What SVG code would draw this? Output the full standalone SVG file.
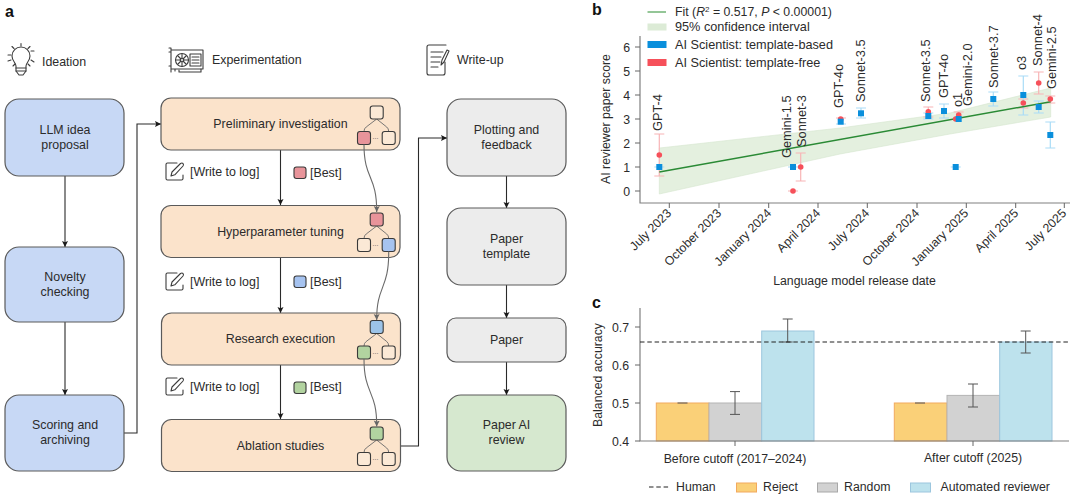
<svg xmlns="http://www.w3.org/2000/svg" width="1080" height="498" viewBox="0 0 1080 498">
<style>
text{font-family:"Liberation Sans",Arial,sans-serif;fill:#2b2b2b;font-size:12.4px}
.c{text-anchor:middle}
.e{text-anchor:end}
.h{font-weight:bold;font-size:16px;fill:#111}
.ax{font-size:12.3px}
.v{font-size:12.8px}
.box{stroke:#5a5a5a;stroke-width:1.2}
.blue{fill:#c7d8f5}.org{fill:#fbe3cb}.gry{fill:#ececec}.grn{fill:#d6e8cf}
.line{fill:none;stroke:#2a2a2a;stroke-width:1.1}
.curve{fill:none;stroke:#6a6a6a;stroke-width:1.1}
.t{stroke:#3a3a3a;stroke-width:1.1}
.w{fill:#fbe9d6}.r{fill:#e8949a}.b{fill:#a6c3f0}.b2{fill:#9cc3e8}.g{fill:#b2d3a0}
.fan{fill:none;stroke:#6a6a6a;stroke-width:.9}
.ic{fill:none;stroke:#3c3c3c;stroke-width:1.1;stroke-linecap:round;stroke-linejoin:round}
.axis{fill:none;stroke:#808080;stroke-width:1.2}
.tk{stroke:#666;stroke-width:1}
.eb{stroke:#a9dcf7;stroke-width:1.2;fill:none}
.er{stroke:#f8b4b6;stroke-width:1.2;fill:none}
.sq{fill:#0a8fdc}.dot{fill:#f6505a}
.bar{stroke-width:1}
.ce{stroke:#555;stroke-width:1;fill:none}
.dots{font-size:7px;fill:#555}
</style>
<defs>
<marker id="ah" markerUnits="userSpaceOnUse" markerWidth="7" markerHeight="7" refX="6" refY="3" orient="auto"><path d="M0 0L6 3L0 6L1.2 3Z" fill="#1a1a1a"/></marker>
<marker id="ag" markerUnits="userSpaceOnUse" markerWidth="7" markerHeight="7" refX="6" refY="3" orient="auto"><path d="M0 0L6 3L0 6L1.2 3Z" fill="#666"/></marker>
<g id="pen"><path class="ic" d="M12 1H2.500Q1 1 1 2.500V16.500Q1 18 2.500 18H16.500Q18 18 18 16.500V13"/><path class="ic" d="M6 14L7 10L15.500 1.500Q17 0.500 18 1.500Q19 2.800 18 4L9.800 12.800Z"/></g>
<g id="fanlines"><path class="fan" d="M0 6.500L-10.500 14.500Q-12.700 16 -12.700 19M0 6.500L10 14.500Q12 16 12 19"/></g>
</defs>

<text class="h" x="5" y="17">a</text>
<text class="h" x="592" y="15">b</text>
<text class="h" x="592" y="308">c</text>

<g id="head-ideation">
<path class="ic" d="M16 71V66C16 63 12 61 12 56A9 9 0 0 1 30 56C30 61 26 63 26 66V71L23 75H19Z"/>
<path class="ic" d="M16 68H26M16 71H26M21 43.500V46M12 46.500L14 48.500M30 46.500L28 48.500M8 55H11M31 51H34M8 61L11 60M31 60L34 62M13 66L15 64M28 64L30 66"/>
<text x="42" y="66">Ideation</text>
</g>
<g id="head-experimentation">
<path class="ic" d="M169 48H171V72M171 50H203V69H175V71M171 69H175M169 52H171M169 66H171"/>
<circle class="ic" cx="182" cy="60" r="6.500"/><circle class="ic" cx="182" cy="60" r="1.800"/>
<path class="ic" d="M182 54V58M182 62V66.500M176 60H180M184 60H188M178 56L181 59M183 61L186 64M186 56L183 59M181 61L178 64"/>
<path class="ic" d="M190 54H201V66H190ZM192 57H199M192 60H199M192 63H199M179 70V72H201V69"/>
<text x="212" y="64">Experimentation</text>
</g>
<g id="head-writeup">
<path class="ic" d="M446 45H429Q427 45 427 47V73Q427 75 429 75H443Q445 75 445 73V62M431 52H443M431 57H441M431 62H440M431 67H438"/>
<path class="ic" d="M441 65L442 60L447 50L449 51L444 62Z"/>
<text x="457" y="64">Write-up</text>
</g>

<g id="connectors">
<path class="line" d="M65 176V247" marker-end="url(#ah)"/>
<path class="line" d="M65 322V395" marker-end="url(#ah)"/>
<path class="line" d="M124 433H137V124H161" marker-end="url(#ah)"/>
<path class="line" d="M280.500 150V205" marker-end="url(#ah)"/>
<path class="line" d="M280.500 257V313" marker-end="url(#ah)"/>
<path class="line" d="M280.500 365V419" marker-end="url(#ah)"/>
<path class="line" d="M400 446H418.500V138H447" marker-end="url(#ah)"/>
<path class="line" d="M506.500 176V208" marker-end="url(#ah)"/>
<path class="line" d="M506.500 285V318" marker-end="url(#ah)"/>
<path class="line" d="M506.500 362V395" marker-end="url(#ah)"/>
</g>

<g id="n1"><rect class="box blue" x="5" y="99" width="119" height="77" rx="14"/><text class="c" x="65" y="134">LLM idea</text><text class="c" x="65" y="149">proposal</text></g>
<g id="n2"><rect class="box blue" x="5" y="247" width="119" height="75" rx="14"/><text class="c" x="65" y="281">Novelty</text><text class="c" x="65" y="296">checking</text></g>
<g id="n3"><rect class="box blue" x="5" y="395" width="119" height="76" rx="14"/><text class="c" x="65" y="429">Scoring and</text><text class="c" x="65" y="444">archiving</text></g>

<g id="n4"><rect class="box org" x="161" y="98" width="239" height="52" rx="10"/><text class="c" x="280.500" y="128">Preliminary investigation</text>
<use href="#fanlines" x="376.700" y="112.500"/>
<rect class="t w" x="370.200" y="106" width="13" height="13" rx="2.500"/><rect class="t r" x="357.500" y="131.500" width="13" height="13" rx="2.500"/><rect class="t w" x="382.200" y="131.500" width="13" height="13" rx="2.500"/><text class="dots" x="372.500" y="139">...</text></g>
<g id="n5"><rect class="box org" x="161" y="205.500" width="239" height="52" rx="10"/><text class="c" x="280.500" y="236">Hyperparameter tuning</text>
<use href="#fanlines" x="376.700" y="219.500"/>
<rect class="t r" x="370.200" y="213" width="13" height="13" rx="2.500"/><rect class="t w" x="357.500" y="238.500" width="13" height="13" rx="2.500"/><rect class="t b" x="382.200" y="238.500" width="13" height="13" rx="2.500"/><text class="dots" x="372.500" y="246">...</text></g>
<g id="n6"><rect class="box org" x="161.500" y="313" width="239" height="52" rx="10"/><text class="c" x="280.500" y="343">Research execution</text>
<use href="#fanlines" x="376.700" y="327"/>
<rect class="t b2" x="370.200" y="320.500" width="13" height="13" rx="2.500"/><rect class="t g" x="357.500" y="346" width="13" height="13" rx="2.500"/><rect class="t w" x="382.200" y="346" width="13" height="13" rx="2.500"/><text class="dots" x="372.500" y="353.500">...</text></g>
<g id="n7"><rect class="box org" x="161.500" y="419.500" width="239" height="52" rx="10"/><text class="c" x="280.500" y="450">Ablation studies</text>
<use href="#fanlines" x="376.700" y="433.500"/>
<rect class="t g" x="370.200" y="427" width="13" height="13" rx="2.500"/><rect class="t w" x="357.500" y="452.500" width="13" height="13" rx="2.500"/><rect class="t w" x="382.200" y="452.500" width="13" height="13" rx="2.500"/><text class="dots" x="372.500" y="460">...</text></g>

<g id="n8"><rect class="box gry" x="447" y="99" width="119" height="77" rx="14"/><text class="c" x="506.500" y="134">Plotting and</text><text class="c" x="506.500" y="149">feedback</text></g>
<g id="n9"><rect class="box gry" x="447" y="208" width="119" height="77" rx="14"/><text class="c" x="506.500" y="243">Paper</text><text class="c" x="506.500" y="258">template</text></g>
<g id="n10"><rect class="box gry" x="447" y="318" width="119" height="44" rx="9"/><text class="c" x="506.500" y="344">Paper</text></g>
<g id="n11"><rect class="box grn" x="447" y="395" width="119" height="76" rx="14"/><text class="c" x="506.500" y="429">Paper AI</text><text class="c" x="506.500" y="444">review</text></g>

<g id="best-curves">
<path class="curve" d="M364 144.500C364 180 377 175 376.700 212" marker-end="url(#ag)"/>
<path class="curve" d="M388.700 251.500C389 290 376.500 285 376.700 320" marker-end="url(#ag)"/>
<path class="curve" d="M364 359C364 395 377 390 376.700 426.500" marker-end="url(#ag)"/>
</g>

<g id="log-labels">
<use href="#pen" x="165" y="162"/><text x="190" y="176">[Write to log]</text>
<rect class="t r" x="294" y="167" width="12" height="11.500" rx="2.500"/><text x="310" y="177">[Best]</text>
<use href="#pen" x="165" y="272"/><text x="190" y="286">[Write to log]</text>
<rect class="t b" x="294" y="276" width="12" height="11.500" rx="2.500"/><text x="310" y="286">[Best]</text>
<use href="#pen" x="165" y="377"/><text x="190" y="391">[Write to log]</text>
<rect class="t g" x="294" y="382" width="12" height="11.500" rx="2.500"/><text x="310" y="391">[Best]</text>
</g>

<g id="chart-b">
<path d="M659.300 148L840 128L950 113L1050.700 88V117L950 134L840 154L659.300 194Z" fill="#e4f0df" stroke="#d5e6ce" stroke-width=".6"/>
<path class="axis" d="M640 36V203H1070"/>
<path class="tk" d="M635 47H640M635 71H640M635 95H640M635 119H640M635 143H640M635 167H640M635 191H640M669.300 203V208M719 203V208M768.700 203V208M818 203V208M867.300 203V208M917 203V208M966.300 203V208M1015.700 203V208M1064.300 203V208"/>
<text class="e ax" x="630" y="51.500">6</text><text class="e ax" x="630" y="75.500">5</text><text class="e ax" x="630" y="99.500">4</text><text class="e ax" x="630" y="123.500">3</text><text class="e ax" x="630" y="147.500">2</text><text class="e ax" x="630" y="171.500">1</text><text class="e ax" x="630" y="195.500">0</text>
<text class="c ax" transform="translate(610 119) rotate(-90)">AI reviewer paper score</text>
<text class="e ax" transform="translate(672 214) rotate(-45)">July 2023</text>
<text class="e ax" transform="translate(722 214) rotate(-45)">October 2023</text>
<text class="e ax" transform="translate(772 214) rotate(-45)">January 2024</text>
<text class="e ax" transform="translate(821 214) rotate(-45)">April 2024</text>
<text class="e ax" transform="translate(870 214) rotate(-45)">July 2024</text>
<text class="e ax" transform="translate(920 214) rotate(-45)">October 2024</text>
<text class="e ax" transform="translate(969 214) rotate(-45)">January 2025</text>
<text class="e ax" transform="translate(1019 214) rotate(-45)">April 2025</text>
<text class="e ax" transform="translate(1067 214) rotate(-45)">July 2025</text>
<text class="c ax" x="854.500" y="285">Language model release date</text>

<path class="er" d="M659.300 134V176M654.300 134H664.300M654.300 176H664.300M800.700 153V181M795.700 153H805.700M795.700 181H805.700M788 191H798M928.300 107V117M923.300 107H933.300M923.300 117H933.300M958.700 112V119M953.700 112H963.700M1023.300 99V108M1018.300 99H1028.300M1018.300 108H1028.300M1038.700 72V94M1033.700 72H1043.700M1033.700 94H1043.700M1050.300 96V103M1045.300 96H1055.300M1045.300 103H1055.300M836 118H846"/>
<path class="eb" d="M654.300 167H664.300M788 167H798M836 124H846M861 108V118M856 108H866M856 118H866M928.300 113V119M923.300 113H933.300M923.300 119H933.300M944 104V118M939 104H949M939 118H949M950.700 167H960.700M993.300 92V106M988.300 92H998.300M988.300 106H998.300M1023.300 76V115M1018.300 76H1028.300M1018.300 115H1028.300M1038.700 101V113M1033.700 101H1043.700M1033.700 113H1043.700M1050.300 122V148M1045.300 122H1055.300M1045.300 148H1055.300"/>
<path d="M659.300 172L1050.700 101.700" fill="none" stroke="#2a8a35" stroke-width="1.500"/>
<g class="dot"><circle cx="659.300" cy="155" r="2.800"/><circle cx="793" cy="191" r="2.800"/><circle cx="800.700" cy="167" r="2.800"/><circle cx="840.700" cy="119" r="2.800"/><circle cx="928.300" cy="111.700" r="2.800"/><circle cx="955.700" cy="119" r="2.800"/><circle cx="958.700" cy="115" r="2.800"/><circle cx="1023.300" cy="103" r="2.800"/><circle cx="1038.700" cy="83" r="2.800"/><circle cx="1050.300" cy="99" r="2.800"/></g>
<g class="sq"><rect x="656.300" y="164" width="6" height="6"/><rect x="790" y="164" width="6" height="6"/><rect x="837.700" y="118.700" width="6" height="6"/><rect x="858" y="110.300" width="6" height="6"/><rect x="925.300" y="113" width="6" height="6"/><rect x="941" y="108" width="6" height="6"/><rect x="952.700" y="164" width="6" height="6"/><rect x="955.700" y="116" width="6" height="6"/><rect x="990.300" y="96" width="6" height="6"/><rect x="1020.300" y="92" width="6" height="6"/><rect x="1035.700" y="104" width="6" height="6"/><rect x="1047.300" y="132" width="6" height="6"/></g>

<g id="b-labels">
<text class="v" transform="translate(662 131) rotate(-90)">GPT-4</text>
<text class="v" transform="translate(791 158) rotate(-90)">Gemini-1.5</text>
<text class="v" transform="translate(806 147) rotate(-90)">Sonnet-3</text>
<text class="v" transform="translate(843 108) rotate(-90)">GPT-4o</text>
<text class="v" transform="translate(865 102) rotate(-90)">Sonnet-3.5</text>
<text class="v" transform="translate(930 102) rotate(-90)">Sonnet-3.5</text>
<text class="v" transform="translate(948 98) rotate(-90)">GPT-4o</text>
<text class="v" transform="translate(962 107) rotate(-90)">o1</text>
<text class="v" transform="translate(972 106) rotate(-90)">Gemini-2.0</text>
<text class="v" transform="translate(998 88) rotate(-90)">Sonnet-3.7</text>
<text class="v" transform="translate(1026 70) rotate(-90)">o3</text>
<text class="v" transform="translate(1042 66) rotate(-90)">Sonnet-4</text>
<text class="v" transform="translate(1056 89) rotate(-90)">Gemini-2.5</text>
</g>

<g id="b-legend">
<path d="M647.500 12H666" stroke="#5aa85f" stroke-width="1.300"/>
<rect x="647.500" y="23.500" width="19" height="7" fill="#dcebd6"/>
<rect x="647.500" y="41" width="19" height="7" fill="#0a8fdc"/>
<rect x="647.500" y="59" width="19" height="7" fill="#f6505a"/>
<text class="ax" x="675" y="16">Fit (<tspan font-style="italic">R</tspan><tspan dy="-4" style="font-size:8px">2</tspan><tspan dy="4"> = 0.517, </tspan><tspan font-style="italic">P</tspan> &lt; 0.00001)</text>
<text x="675" y="31" style="font-size:12.700px">95% confidence interval</text>
<text x="675" y="49" style="font-size:12.700px">AI Scientist: template-based</text>
<text x="675" y="67" style="font-size:12.700px">AI Scientist: template-free</text>
</g>
</g>

<g id="chart-c">
<rect class="bar" x="656.300" y="403" width="52.700" height="38" fill="#fad078" stroke="#f2a95e"/>
<rect class="bar" x="709" y="403" width="52.700" height="38" fill="#d2d2d2" stroke="#b4b4b4"/>
<rect class="bar" x="761.700" y="331" width="52.300" height="110" fill="#bde2ed" stroke="#9cc6de"/>
<rect class="bar" x="894.300" y="403" width="52.700" height="38" fill="#fad078" stroke="#f2a95e"/>
<rect class="bar" x="947" y="395.400" width="52.700" height="45.600" fill="#d2d2d2" stroke="#b4b4b4"/>
<rect class="bar" x="999.700" y="342" width="52.300" height="99" fill="#bde2ed" stroke="#9cc6de"/>
<path class="axis" d="M640 308V441H1069"/>
<path class="tk" d="M635 327H640M635 365H640M635 403H640M635 441H640M735 441V446M973 441V446"/>
<text class="e ax" x="629" y="331.500">0.7</text><text class="e ax" x="629" y="369.500">0.6</text><text class="e ax" x="629" y="407.500">0.5</text><text class="e ax" x="629" y="445.500">0.4</text>
<text class="c ax" transform="translate(602 375) rotate(-90)">Balanced accuracy</text>
<path class="ce" d="M677.500 403H687.500M735 391.600V414.400M730 391.600H740M730 414.400H740M787.700 319V342M782.700 319H792.700M782.700 342H792.700M915 403H925M973 384V407M968 384H978M968 407H978M1025.700 331V353M1020.700 331H1030.700M1020.700 353H1030.700"/>
<path d="M640 342H1069" fill="none" stroke="#222" stroke-width="1.100" stroke-dasharray="4.500 2.800"/>
<text class="c ax" x="735" y="463">Before cutoff (2017–2024)</text>
<text class="c ax" x="973" y="462">After cutoff (2025)</text>
<g id="c-legend">
<path d="M649 487H670" fill="none" stroke="#222" stroke-width="1.100" stroke-dasharray="4.500 2.800"/>
<text class="ax" x="676" y="491">Human</text>
<rect class="bar" x="736.500" y="483" width="20" height="9" fill="#fad078" stroke="#f2a95e"/><text class="ax" x="763" y="491">Reject</text>
<rect class="bar" x="817.500" y="483" width="20" height="9" fill="#d2d2d2" stroke="#a8a8a8"/><text class="ax" x="844" y="491">Random</text>
<rect class="bar" x="910.500" y="483" width="20" height="9" fill="#bde2ed" stroke="#9cc6de"/><text class="ax" x="940.500" y="491">Automated reviewer</text>
</g>
</g>
</svg>
